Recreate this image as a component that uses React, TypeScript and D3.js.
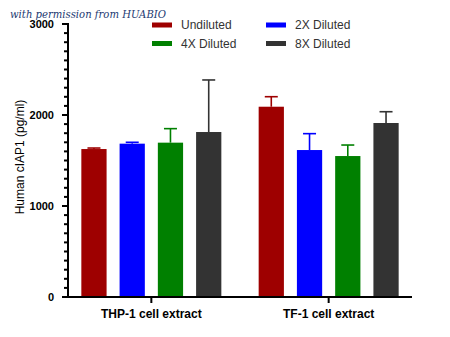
import React from "react";
import * as d3 from "d3";

const groups = ["THP-1 cell extract", "TF-1 cell extract"];
const seriesNames = ["Undiluted", "2X Diluted", "4X Diluted", "8X Diluted"];
const seriesColors = ["#9e0000", "#0000ff", "#008000", "#333333"];
const undiluted = [1626, 2091];
const undilutedErr = [11, 110];
const diluted2x = [1685, 1615];
const diluted2xErr = [15, 180];
const diluted4x = [1696, 1549];
const diluted4xErr = [154, 121];
const diluted8x = [1813, 1912];
const diluted8xErr = [572, 124];
const yTicks = [0, 1000, 2000, 3000];

const means = [undiluted, diluted2x, diluted4x, diluted8x];
const errs = [undilutedErr, diluted2xErr, diluted4xErr, diluted8xErr];

export default function App() {
  const W = 450, H = 337;
  const x0 = 68, x1 = 412, yBase = 297, yTop = 24;
  const y = d3.scaleLinear().domain([0, 3000]).range([yBase, yTop]);
  const xg = d3.scalePoint<string>().domain(groups).range([x0, x1]).padding(0.47);
  const xs = d3.scaleBand<string>().domain(seriesNames).range([-70, 70]).paddingInner(0.34).paddingOuter(0);
  const minor = d3.range(0, 3001, 100);
  const font = "Arial, 'Liberation Sans', sans-serif";

  return (
    <svg width={W} height={H} style={{ position: "absolute", left: 0, top: 0, background: "#fff" }}>
      <text x={10} y={18} fontFamily="'DejaVu Serif', serif" fontStyle="italic" fontSize={11.5} fill="#1d3a72" textLength={156} lengthAdjust="spacingAndGlyphs">with permission from HUABIO</text>

      {/* bars */}
      {groups.map((g, gi) => (
        <g key={g}>
          {seriesNames.map((s, si) => {
            const bx = (xg(g) as number) + (xs(s) as number);
            const bw = xs.bandwidth();
            const v = means[si][gi];
            const e = errs[si][gi];
            const cx = bx + bw / 2;
            return (
              <g key={s}>
                <line x1={cx} x2={cx} y1={y(v)} y2={y(v + e)} stroke={seriesColors[si]} strokeWidth={1.6} />
                <line x1={cx - 6.5} x2={cx + 6.5} y1={y(v + e)} y2={y(v + e)} stroke={seriesColors[si]} strokeWidth={1.6} />
                <rect x={bx} y={y(v)} width={bw} height={yBase - y(v)} fill={seriesColors[si]} />
              </g>
            );
          })}
        </g>
      ))}

      {/* y axis */}
      <line x1={x0} x2={x0} y1={yTop - 1} y2={yBase + 1} stroke="#000" strokeWidth={2} />
      {minor.map((t) => {
        const major = t % 1000 === 0;
        return <line key={t} x1={major ? x0 - 6 : x0 - 4} x2={x0} y1={y(t)} y2={y(t)} stroke="#000" strokeWidth={2} />;
      })}
      {yTicks.map((t) => (
        <text key={t} x={54} y={y(t) + 4} textAnchor="end" fontFamily={font} fontWeight="bold" fontSize={11} fill="#000">{t}</text>
      ))}
      <text transform={`translate(24,157) rotate(-90)`} textAnchor="middle" fontFamily={font} fontSize={12} fill="#000">Human cIAP1 (pg/ml)</text>

      {/* x axis */}
      <line x1={x0 - 1} x2={x1} y1={yBase} y2={yBase} stroke="#000" strokeWidth={2} />
      {groups.map((g) => (
        <g key={g}>
          <line x1={xg(g) as number} x2={xg(g) as number} y1={yBase} y2={yBase + 6} stroke="#000" strokeWidth={2} />
          <text x={xg(g) as number} y={318} textAnchor="middle" fontFamily={font} fontWeight="bold" fontSize={12} fill="#000">{g}</text>
        </g>
      ))}

      {/* legend */}
      {seriesNames.map((s, i) => {
        const col = i % 2, row = Math.floor(i / 2);
        const lx = col === 0 ? 152 : 266;
        const cy = row === 0 ? 25 : 43.5;
        return (
          <g key={s}>
            <rect x={lx} y={cy - 2.5} width={20} height={5} fill={seriesColors[i]} />
            <text x={lx + 29} y={cy + 4.3} fontFamily={font} fontSize={12} fill="#333">{s}</text>
          </g>
        );
      })}
    </svg>
  );
}
